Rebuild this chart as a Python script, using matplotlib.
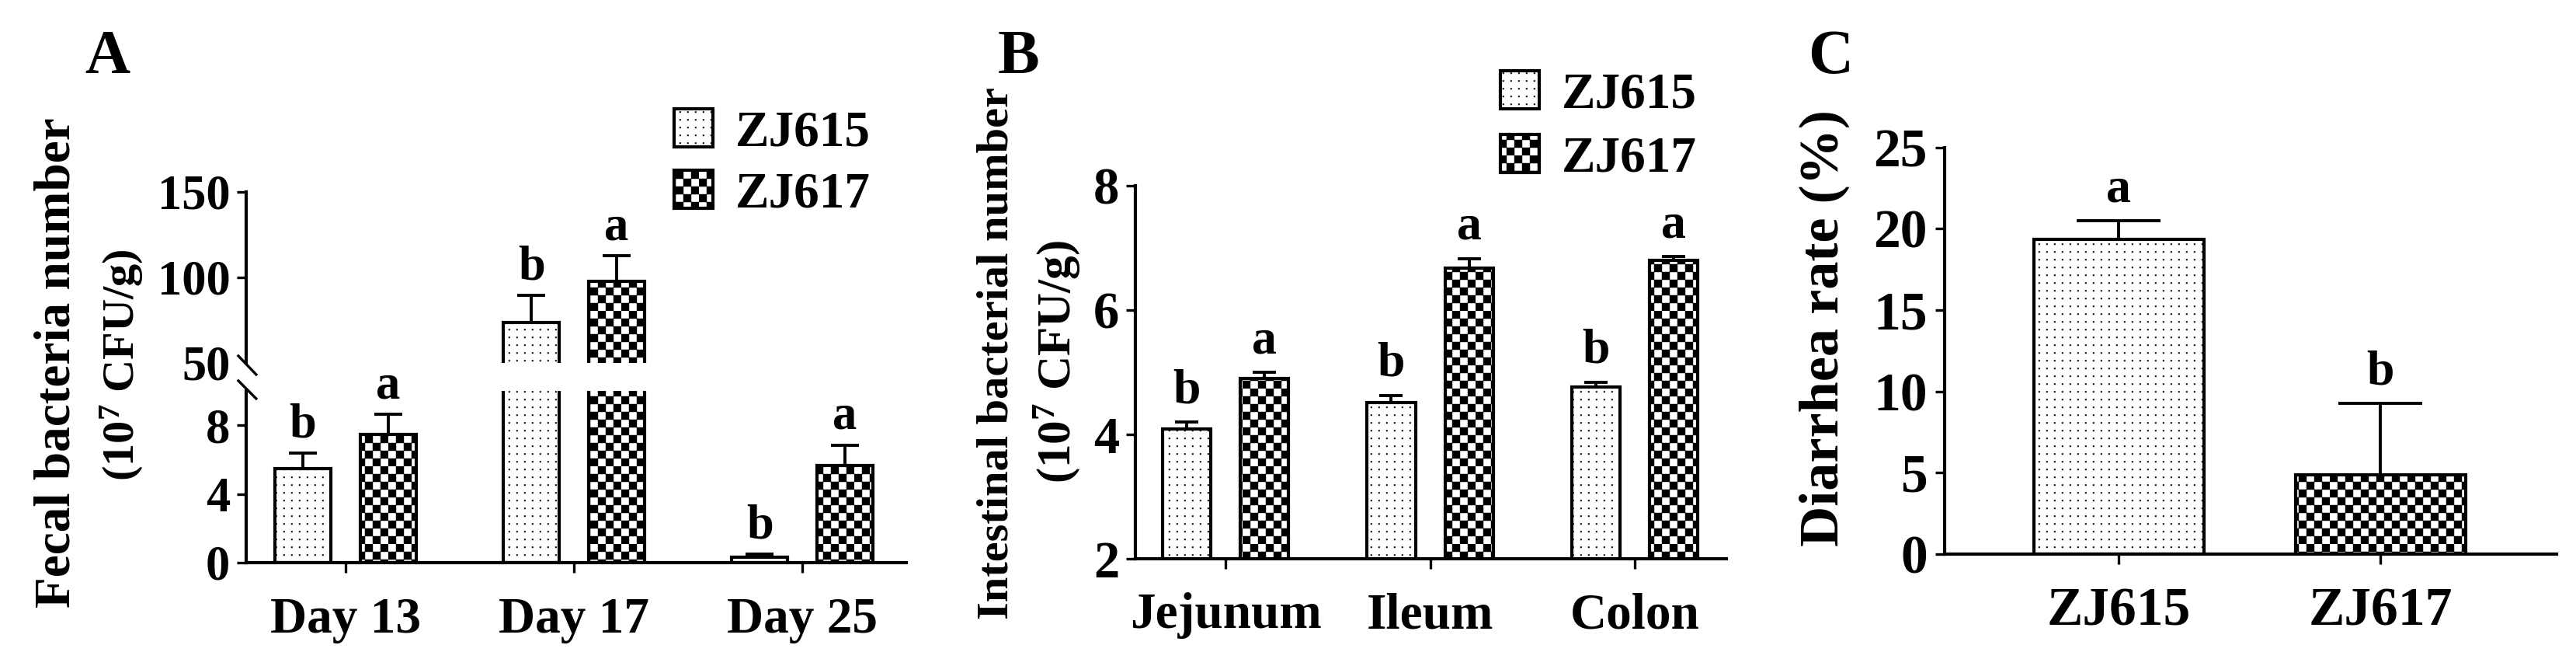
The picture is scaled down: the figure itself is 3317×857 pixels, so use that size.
import warnings
import numpy as np
import matplotlib
matplotlib.use('Agg')
import matplotlib.pyplot as plt
import matplotlib.hatch as mhatch
from matplotlib.path import Path

warnings.filterwarnings('ignore')

# A: fecal bacteria number (10^7 CFU/g)
days = ['Day 13', 'Day 17', 'Day 25']
fecal_615 = [5.47, 73.5, 0.3]
fecal_615_err = [0.9, 16.0, 0.2]
fecal_617 = [7.47, 97.5, 5.65]
fecal_617_err = [1.17, 15.0, 1.2]

# B: intestinal bacterial number (10^7 CFU/g)
sites = ['Jejunum', 'Ileum', 'Colon']
gut_615 = [4.09, 4.51, 4.76]
gut_615_err = [0.11, 0.12, 0.08]
gut_617 = [4.90, 6.68, 6.80]
gut_617_err = [0.10, 0.15, 0.06]

# C: diarrhea rate (%)
strains = ['ZJ615', 'ZJ617']
diarrhea = [19.35, 4.85]
diarrhea_err = [1.15, 4.4]

letters_615 = ['b', 'b', 'b']
letters_617 = ['a', 'a', 'a']
letters_c = ['a', 'b']


# custom fills: 'k' = checkerboard, 'p' = fine dot grid
class CheckerHatch(mhatch.HatchPatternBase):
    def __init__(self, hatch, density):
        self.n = hatch.count('k') * 5
        self.num_vertices = self.n * self.n * 2 * 5

    def set_vertices_and_codes(self, vertices, codes):
        n = self.n
        s = 0.5 / n
        sq = np.array([[0, 0], [s, 0], [s, s], [0, s], [0, 0]])
        cells = []
        for i in range(n):
            for j in range(n):
                cells.append(sq + [i / n, j / n])
                cells.append(sq + [i / n + s, j / n + s])
        vertices[:] = np.concatenate(cells)
        codes[:] = np.tile([Path.MOVETO, Path.LINETO, Path.LINETO,
                            Path.LINETO, Path.CLOSEPOLY], 2 * n * n)


class DotHatch(mhatch.HatchPatternBase):
    def __init__(self, hatch, density):
        self.n = hatch.count('p') * 10
        self.num_vertices = self.n * self.n * 5

    def set_vertices_and_codes(self, vertices, codes):
        n = self.n
        d = 0.016
        sq = np.array([[0, 0], [d, 0], [d, d], [0, d], [0, 0]])
        cells = []
        for i in range(n):
            for j in range(n):
                cells.append(sq + [(i + 0.5) / n, (j + 0.5) / n])
        vertices[:] = np.concatenate(cells)
        codes[:] = np.tile([Path.MOVETO, Path.LINETO, Path.LINETO,
                            Path.LINETO, Path.CLOSEPOLY], n * n)


mhatch._hatch_types.append(CheckerHatch)
mhatch._hatch_types.append(DotHatch)

plt.rcParams['font.family'] = 'Liberation Serif'
plt.rcParams['font.weight'] = 'bold'
plt.rcParams['mathtext.default'] = 'regular'
plt.rcParams['hatch.linewidth'] = 0.3

LW = 3.0


def style(ax, ticksize, xpad):
    for s in ['top', 'right']:
        ax.spines[s].set_visible(False)
    ax.spines['left'].set_linewidth(3.0)
    ax.spines['bottom'].set_linewidth(3.0)
    ax.tick_params(width=2.4, length=9, labelsize=ticksize, direction='out')
    ax.tick_params(axis='y', pad=6)
    ax.tick_params(axis='x', pad=xpad)


def bars(ax, xs, vals, errs, w, hatch, capsize, label=None):
    b = ax.bar(xs, vals, w, color='white', edgecolor='black', linewidth=LW,
               hatch=hatch, label=label)
    ax.errorbar(xs, vals, yerr=[np.zeros(len(vals)), errs], fmt='none',
                ecolor='black', elinewidth=2.8, capsize=capsize, capthick=2.8)
    return b


def letter(ax, xpos, top, txt, size, off):
    ax.annotate(txt, (xpos, top), xytext=(0, off), textcoords='offset points',
                ha='center', va='baseline', fontsize=size, annotation_clip=False)


fig = plt.figure(figsize=(33.17, 8.57), dpi=100)

# ---------- A (broken y axis) ----------
xa = np.arange(len(days))
off_a, w_a = 0.187, 0.245
axA_hi = fig.add_axes([0.0956, 0.4551, 0.2562, 0.2567])
axA_lo = fig.add_axes([0.0956, 0.1552, 0.2562, 0.2579])
for ax in (axA_hi, axA_lo):
    h1 = bars(ax, xa - off_a, fecal_615, fecal_615_err, w_a, 'p', 13, 'ZJ615')
    h2 = bars(ax, xa + off_a, fecal_617, fecal_617_err, w_a, 'k', 13, 'ZJ617')
    ax.set_xlim(-0.435, 2.455)
    style(ax, 45, 23)
axA_hi.set_ylim(50, 150)
axA_hi.set_yticks([50, 100, 150])
axA_hi.yaxis.get_major_ticks()[0].tick1line.set_visible(False)
axA_hi.spines['bottom'].set_visible(False)
axA_hi.tick_params(axis='x', bottom=False, labelbottom=False)
axA_lo.set_ylim(0, 10)
axA_lo.set_yticks([0, 4, 8])
axA_lo.set_xticks(xa, days)
axA_lo.tick_params(axis='x', labelsize=47)

for vals, errs, lets, sgn in [(fecal_615, fecal_615_err, letters_615, -1),
                              (fecal_617, fecal_617_err, letters_617, 1)]:
    for i, (v, e, t) in enumerate(zip(vals, errs, lets)):
        ax = axA_hi if v + e > 10 else axA_lo
        letter(ax, xa[i] + sgn * off_a, v + e, t, 45, 15)

# break marks on the y axis
kw = dict(color='black', lw=2.4, clip_on=False)
axA_hi.plot([-0.012, 0.015], [0.041, -0.068], transform=axA_hi.transAxes, **kw)
axA_lo.plot([-0.012, 0.015], [1.059, 0.955], transform=axA_lo.transAxes, **kw)

fig.legend(handles=[h1, h2], loc='upper left', bbox_to_anchor=(0.2617, 0.8366),
           frameon=False, borderpad=0, borderaxespad=0, handlelength=0.76,
           handleheight=0.78, handletextpad=0.45, labelspacing=0.27, fontsize=47)

fig.text(0.0416, 0.8903, 'A', fontsize=58, ha='center', va='baseline')
fig.text(0.0223, 0.455, 'Fecal bacteria number', rotation=90, fontsize=47,
         ha='center', va='center')
fig.text(0.0473, 0.4516, '(10$^{7}$ CFU/g)', rotation=90, fontsize=42,
         ha='center', va='center')

# ---------- B ----------
xb = np.arange(len(sites))
off_b, w_b = 0.19, 0.236
axB = fig.add_axes([0.4408, 0.1610, 0.2294, 0.5601])
g1 = bars(axB, xb - off_b, gut_615, gut_615_err, w_b, 'p', 11, 'ZJ615')
g2 = bars(axB, xb + off_b, gut_617, gut_617_err, w_b, 'k', 11, 'ZJ617')
axB.set_ylim(2, 8)
axB.set_yticks([2, 4, 6, 8])
axB.set_xlim(-0.44, 2.448)
style(axB, 48, 22)
axB.set_xticks(xb, sites)
axB.tick_params(axis='x', labelsize=47)
for i in range(len(sites)):
    letter(axB, xb[i] - off_b, gut_615[i] + gut_615_err[i], letters_615[i], 46, 18)
    letter(axB, xb[i] + off_b, gut_617[i] + gut_617_err[i], letters_617[i], 46, 18)

fig.legend(handles=[g1, g2], loc='upper left', bbox_to_anchor=(0.5825, 0.8938),
           frameon=False, borderpad=0, borderaxespad=0, handlelength=0.76,
           handleheight=0.78, handletextpad=0.45, labelspacing=0.32, fontsize=47)

fig.text(0.3955, 0.8903, 'B', fontsize=58, ha='center', va='baseline')
fig.text(0.3868, 0.470, 'Intestinal bacterial number', rotation=90, fontsize=42,
         ha='center', va='center')
fig.text(0.4103, 0.457, '(10$^{7}$ CFU/g)', rotation=90, fontsize=44,
         ha='center', va='center')

# ---------- C ----------
xc = np.arange(len(strains))
axC = fig.add_axes([0.7549, 0.1686, 0.2376, 0.6097])
bars(axC, xc, diarrhea, diarrhea_err, 0.65, 'p', 39)
axC.set_ylim(0, 25)
axC.set_yticks([0, 5, 10, 15, 20, 25])
axC.set_xlim(-0.665, 1.674)
style(axC, 50, 22)
axC.patches[1].set_hatch('k')
axC.set_xticks(xc, strains)
axC.tick_params(axis='y', pad=7)
for i in range(len(strains)):
    letter(axC, xc[i], diarrhea[i] + diarrhea_err[i], letters_c[i], 46, 18)

fig.text(0.7106, 0.8903, 'C', fontsize=58, ha='center', va='baseline')
fig.text(0.7082, 0.5076, 'Diarrhea rate (%)', rotation=90, fontsize=52,
         ha='center', va='center')

fig.savefig('out.png', dpi=100)
